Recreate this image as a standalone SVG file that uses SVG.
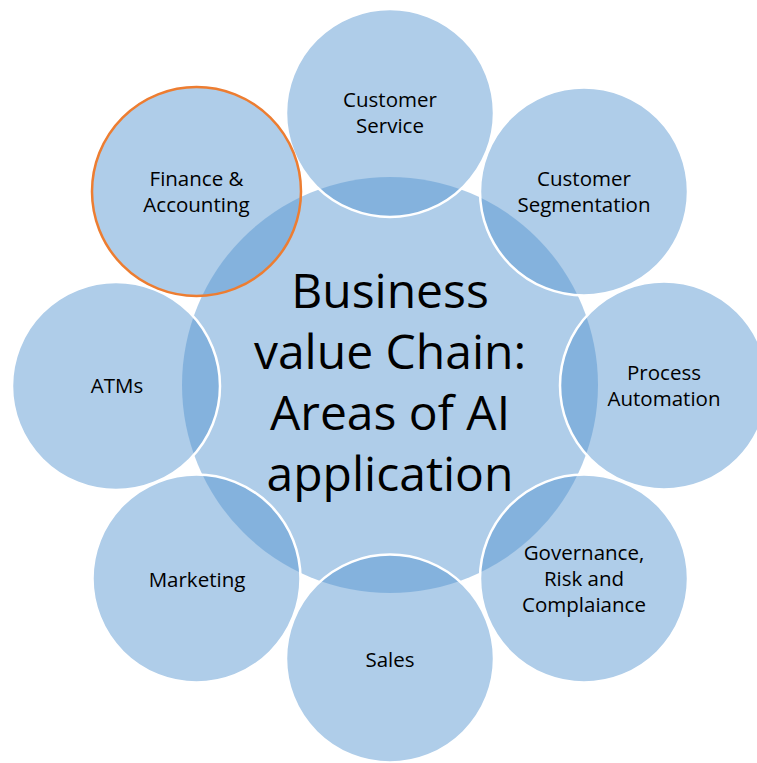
<svg xmlns="http://www.w3.org/2000/svg" width="757" height="763" viewBox="0 0 757 763">
  <style>
    .hub { fill: rgb(85,149,208); fill-opacity: 0.47; stroke: none; }
    .area { fill: rgb(85,149,208); fill-opacity: 0.47; stroke: #ffffff; stroke-width: 2.5; }
    .area.hl { stroke: #ED7D31; stroke-width: 2.5; }
    .lbl { font-family: "Open Sans", "Liberation Sans", sans-serif; font-size: 20.5px; fill: #000; text-anchor: middle; }
    .title { font-family: "Open Sans", "Liberation Sans", sans-serif; font-size: 48px; fill: #000; text-anchor: middle; }
  </style>

  <!-- central hub -->
  <g id="hub">
    <circle class="hub" cx="390" cy="385" r="208"/>
  </g>

  <!-- surrounding areas -->
  <g id="customer-service">
    <circle class="area" cx="390" cy="113" r="104"/>
  </g>
  <g id="customer-segmentation">
    <circle class="area" cx="584" cy="191.5" r="104"/>
  </g>
  <g id="process-automation">
    <circle class="area" cx="664" cy="385.5" r="104"/>
  </g>
  <g id="governance">
    <circle class="area" cx="584" cy="578.5" r="104"/>
  </g>
  <g id="sales">
    <circle class="area" cx="390" cy="658.5" r="104"/>
  </g>
  <g id="marketing">
    <circle class="area" cx="196.5" cy="578.5" r="104"/>
  </g>
  <g id="atms">
    <circle class="area" cx="116" cy="386" r="104"/>
  </g>
  <g id="finance">
    <circle class="area hl" cx="196.5" cy="191.5" r="104.5"/>
  </g>

  <!-- connectors: none drawn, circles touch directly -->
  <g id="connectors"/>

  <!-- labels -->
  <g id="labels">
    <text class="title" x="390" y="308">Business</text>
    <text class="title" x="390" y="369">value Chain:</text>
    <text class="title" x="390" y="430">Areas of AI</text>
    <text class="title" x="390" y="491">application</text>

    <text class="lbl" x="390" y="107">Customer</text>
    <text class="lbl" x="390" y="133">Service</text>

    <text class="lbl" x="584" y="186">Customer</text>
    <text class="lbl" x="584" y="212">Segmentation</text>

    <text class="lbl" x="664" y="380">Process</text>
    <text class="lbl" x="664" y="406">Automation</text>

    <text class="lbl" x="584" y="560">Governance,</text>
    <text class="lbl" x="584" y="586">Risk and</text>
    <text class="lbl" x="584" y="612">Complaiance</text>

    <text class="lbl" x="390" y="667">Sales</text>
    <text class="lbl" x="197" y="587">Marketing</text>
    <text class="lbl" x="117" y="393">ATMs</text>

    <text class="lbl" x="196.5" y="186">Finance &amp;</text>
    <text class="lbl" x="196.5" y="212">Accounting</text>
  </g>
</svg>
